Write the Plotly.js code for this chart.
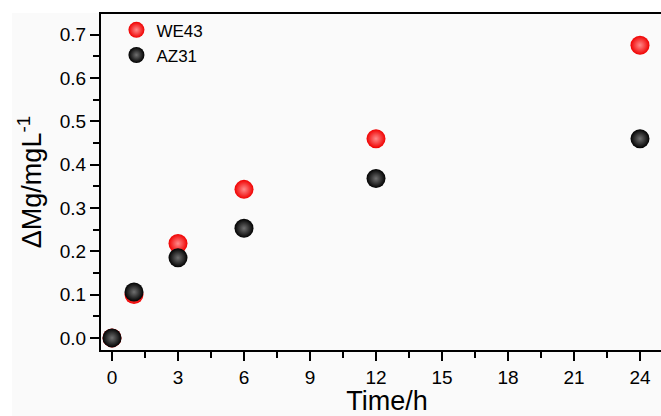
<!DOCTYPE html>
<html>
<head>
<meta charset="utf-8">
<script src="https://cdn.plot.ly/plotly-3.0.1.min.js"></script>
<style>
html,body{margin:0;padding:0;overflow:hidden;background:#fff;}
#chart{width:680px;height:416px;}
</style>
</head>
<body>
<div id="chart"></div>
<script>
// Data
const timeH = [0, 1, 3, 6, 12, 24];
const we43 = [0.000, 0.100, 0.218, 0.343, 0.460, 0.676];
const az31 = [0.000, 0.106, 0.185, 0.253, 0.368, 0.460];
const xTicks = [0, 3, 6, 9, 12, 15, 18, 21, 24];
const yTicks = [0.0, 0.1, 0.2, 0.3, 0.4, 0.5, 0.6, 0.7];
const yTickText = yTicks.map(v => v.toFixed(1));

const font = "Liberation Sans, Arial, sans-serif";

const traces = [
  {
    x: timeH, y: we43, name: 'WE43', type: 'scatter', mode: 'markers',
    marker: {size: 19, color: '#f00000', line: {width: 0},
             gradient: {type: 'radial', color: '#ff8a8a'}}
  },
  {
    x: timeH, y: az31, name: 'AZ31', type: 'scatter', mode: 'markers',
    marker: {size: 19, color: '#000000', line: {width: 0},
             gradient: {type: 'radial', color: '#707070'}}
  }
];

const axisCommon = {
  showline: true, linecolor: '#000', linewidth: 2,
  ticks: 'outside', ticklen: 9, tickwidth: 2, tickcolor: '#000',
  showgrid: false, zeroline: false, mirror: true,
  tickfont: {family: font, size: 19, color: '#000'}
};

const layout = {
  width: 680, height: 416,
  margin: {l: 101, r: 7, t: 14, b: 66},
  paper_bgcolor: '#ffffff',
  plot_bgcolor: 'rgba(0,0,0,0)',
  showlegend: true,
  legend: {
    x: 0.027, y: 1.005, xanchor: 'left', yanchor: 'top',
    bgcolor: 'rgba(0,0,0,0)', borderwidth: 0,
    font: {family: font, size: 17, color: '#000'},
    tracegroupgap: 0
  },
  xaxis: Object.assign({}, axisCommon, {
    range: [-0.5, 25.5],
    tickmode: 'array', tickvals: xTicks, ticktext: xTicks.map(String),
    minor: {dtick: 1.5, tick0: 0, ticks: 'outside', ticklen: 6, tickwidth: 2, tickcolor: '#000', showgrid: false},
    title: {text: 'Time/h', font: {family: font, size: 27, color: '#000'}, standoff: 6}
  }),
  yaxis: Object.assign({}, axisCommon, {
    range: [-0.028, 0.748],
    tickmode: 'array', tickvals: yTicks, ticktext: yTickText,
    minor: {dtick: 0.05, tick0: 0, ticks: 'outside', ticklen: 6, tickwidth: 2, tickcolor: '#000', showgrid: false},
    title: {text: '\u0394Mg/mgL<sup>-1</sup>', font: {family: font, size: 27, color: '#000'}, standoff: 10}
  }),
  shapes: [{
    type: 'rect', xref: 'paper', yref: 'paper', layer: 'below',
    x0: (12 - 101) / 572, x1: 1.2, y0: -0.3, y1: (350 - 13) / 336,
    fillcolor: '#fafafa', line: {width: 0}
  }]
};

Plotly.newPlot('chart', traces, layout, {displayModeBar: false, staticPlot: true});
</script>
</body>
</html>
